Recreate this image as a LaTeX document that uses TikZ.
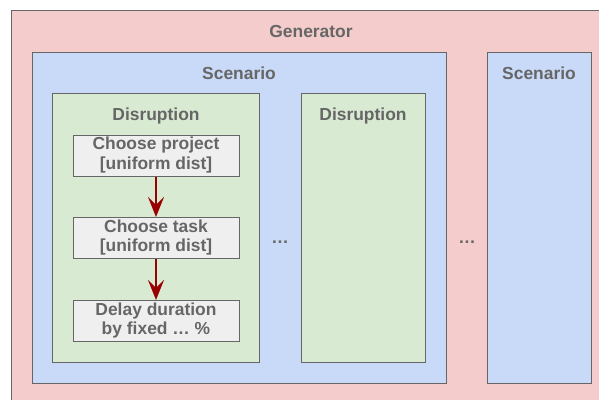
\documentclass[tikz,border=0pt]{standalone}
\usepackage{fontspec}
\setmainfont{Liberation Sans}
\usetikzlibrary{arrows.meta}
\definecolor{genfill}{HTML}{F4CCCC}
\definecolor{scenfill}{HTML}{C9DAF8}
\definecolor{disfill}{HTML}{D9EAD3}
\definecolor{stepfill}{HTML}{EFEFEF}
\definecolor{edge}{HTML}{666666}
\definecolor{ink}{HTML}{666666}
\definecolor{flow}{HTML}{990000}
% two centred lines, 20bp apart, nudged up to sit centred in a step box
\newcommand\twolines[2]{\raisebox{1bp}{\begin{tabular}{@{}c@{}}#1\\\relax #2\end{tabular}}}
\tikzset{
  frame/.style={draw=edge, line width=1bp},
  title/.style={text=ink, font=\fontsize{17.5}{20}\selectfont\bfseries, inner sep=0pt, anchor=base},
  stepbox/.style={frame, fill=stepfill, text=ink,
    font=\fontsize{17.5}{20}\selectfont\bfseries, minimum width=166bp, minimum height=41bp, inner sep=0pt},
  link/.style={draw=flow, line width=2.8bp, -{Stealth[length=20bp,width=16bp,inset=8bp]}},
}
\begin{document}
\begin{tikzpicture}[x=1bp, y=-1bp]
  \useasboundingbox (0,0) rectangle (599,399);
  \clip (0,0) rectangle (599,399);
  \fill[white] (0,0) rectangle (599,399);
  % generator
  \draw[frame, fill=genfill] (11.5,10.5) rectangle (610,410);
  \node[title] (gen) at (311,37) {Generator};
  % first scenario
  \draw[frame, fill=scenfill] (32,52) rectangle (446,383);
  \node[title] (scen1) at (239,79) {Scenario};
  % first disruption with its three steps
  \draw[frame, fill=disfill] (52,93) rectangle (259.5,362);
  \node[title] (dis1) at (156,120) {Disruption};
  \node[stepbox] (s1) at (156,155.5) {\twolines{Choose project}{[uniform dist]}};
  \node[stepbox] (s2) at (156,238) {\twolines{Choose task}{[uniform dist]}};
  \node[stepbox] (s3) at (156,321) {\twolines{Delay duration}{by fixed … \%}};
  \draw[link] (s1) -- (s2);
  \draw[link] (s2) -- (s3);
  % second disruption
  \draw[frame, fill=disfill] (301,93) rectangle (425.5,362);
  \node[title] (dis2) at (363,120) {Disruption};
  \node[title, anchor=center] (dots1) at (280,242) {…};
  % second scenario
  \draw[frame, fill=scenfill] (487,52) rectangle (591,383);
  \node[title] (scen2) at (539,79) {Scenario};
  \node[title, anchor=center] (dots2) at (467,242) {…};
\end{tikzpicture}
\end{document}
